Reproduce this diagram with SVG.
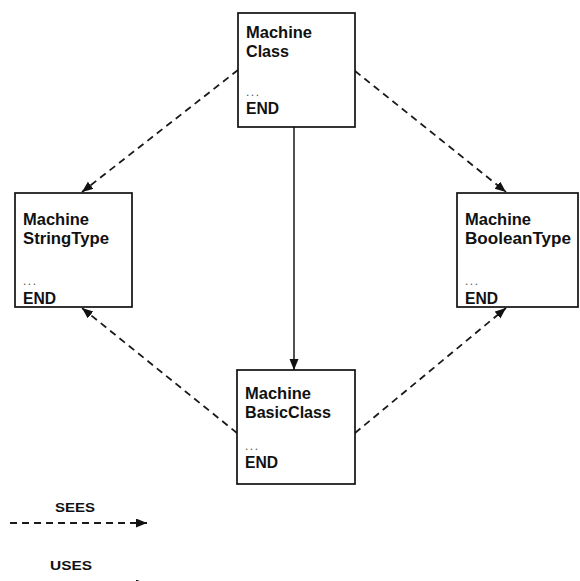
<svg xmlns="http://www.w3.org/2000/svg" width="580" height="581" viewBox="0 0 580 581">
  <style>
    .box { fill: #ffffff; stroke: #111111; stroke-width: 1.7; }
    .lbl { font-family: "Liberation Sans", Arial, sans-serif; font-weight: bold; font-size: 16px; fill: #111111; }
    .dots { font-family: "Liberation Sans", Arial, sans-serif; font-size: 12px; letter-spacing: 1.5px; fill: #555555; }
    .sees { fill: none; stroke: #1a1a1a; stroke-width: 1.8; stroke-dasharray: 7 5; }
    .uses { fill: none; stroke: #333333; stroke-width: 1.7; }
    .legend { font-family: "Liberation Sans", Arial, sans-serif; font-weight: bold; font-size: 13px; fill: #111111; }
  </style>
  <defs>
    <marker id="head" markerUnits="userSpaceOnUse" markerWidth="12" markerHeight="10" refX="11" refY="4.5" orient="auto">
      <path d="M0,0 L11,4.5 L0,9 z" fill="#111111"/>
    </marker>
  </defs>
  <rect width="580" height="581" fill="#ffffff"/>

  <!-- connectors -->
  <g id="connectors">
    <line class="sees" x1="238" y1="70" x2="82" y2="192" marker-end="url(#head)"/>
    <line class="sees" x1="355" y1="71" x2="506" y2="192" marker-end="url(#head)"/>
    <line class="sees" x1="237" y1="433" x2="82" y2="308" marker-end="url(#head)"/>
    <line class="sees" x1="355" y1="433" x2="506" y2="308" marker-end="url(#head)"/>
    <line class="uses" x1="294" y1="127" x2="294" y2="370" marker-end="url(#head)"/>
  </g>

  <!-- machines -->
  <g id="machine-class">
    <rect class="box" x="238" y="13" width="117" height="114"/>
    <text class="lbl" x="246" y="38" textLength="66" lengthAdjust="spacingAndGlyphs">Machine</text>
    <text class="lbl" x="246" y="57" textLength="43" lengthAdjust="spacingAndGlyphs">Class</text>
    <text class="dots" x="246" y="96">...</text>
    <text class="lbl" x="246" y="114" textLength="33" lengthAdjust="spacingAndGlyphs">END</text>
  </g>

  <g id="machine-stringtype">
    <rect class="box" x="15" y="193" width="117" height="114"/>
    <text class="lbl" x="23" y="225" textLength="66" lengthAdjust="spacingAndGlyphs">Machine</text>
    <text class="lbl" x="23" y="244" textLength="86" lengthAdjust="spacingAndGlyphs">StringType</text>
    <text class="dots" x="23" y="285">...</text>
    <text class="lbl" x="23" y="304" textLength="33" lengthAdjust="spacingAndGlyphs">END</text>
  </g>

  <g id="machine-booleantype">
    <rect class="box" x="457" y="193" width="121" height="114"/>
    <text class="lbl" x="465" y="225" textLength="66" lengthAdjust="spacingAndGlyphs">Machine</text>
    <text class="lbl" x="465" y="244" textLength="106" lengthAdjust="spacingAndGlyphs">BooleanType</text>
    <text class="dots" x="465" y="285">...</text>
    <text class="lbl" x="465" y="304" textLength="33" lengthAdjust="spacingAndGlyphs">END</text>
  </g>

  <g id="machine-basicclass">
    <rect class="box" x="237" y="370" width="118" height="114"/>
    <text class="lbl" x="245" y="399" textLength="66" lengthAdjust="spacingAndGlyphs">Machine</text>
    <text class="lbl" x="245" y="418" textLength="86" lengthAdjust="spacingAndGlyphs">BasicClass</text>
    <text class="dots" x="245" y="450">...</text>
    <text class="lbl" x="245" y="468" textLength="33" lengthAdjust="spacingAndGlyphs">END</text>
  </g>

  <!-- legend -->
  <g id="legend">
    <text class="legend" x="55" y="512" textLength="40" lengthAdjust="spacingAndGlyphs">SEES</text>
    <line class="sees" x1="10" y1="523" x2="147" y2="523" marker-end="url(#head)"/>
    <text class="legend" x="50" y="570" textLength="42" lengthAdjust="spacingAndGlyphs">USES</text>
    <line class="uses" x1="10" y1="584" x2="147" y2="584" marker-end="url(#head)"/>
  </g>
</svg>
